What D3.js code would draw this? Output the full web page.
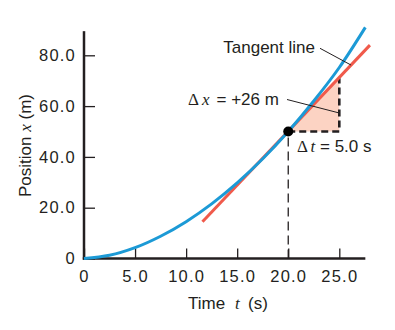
<!DOCTYPE html>
<html>
<head>
<meta charset="utf-8">
<script src="https://cdn.jsdelivr.net/npm/d3@7"></script>
<style>
  html, body { margin: 0; padding: 0; background: #fff; }
  svg { display: block; }
  text { font-family: "Liberation Sans", Arial, sans-serif; fill: #231f20; }
  .serif { font-family: "Liberation Serif", "Times New Roman", serif; }
</style>
</head>
<body>
<svg id="chart" width="395" height="330"></svg>
<script>
// ---- data ----
const timeS = [0, 2.5, 5, 7.5, 10, 12.5, 15, 17.5, 20, 22.5, 25, 27.55];
const posM  = [0, 1.25, 4.25, 8.75, 14.5, 21.5, 29.75, 39.25, 50, 62, 75.2, 91];
const tangentT = [11.6, 28.0];
const tangentX = [14.5, 84.0];
const pointT = 20, pointX = 50;
const triT = [20, 25, 25];
const triX = [50, 50, 71];
const xTickValues = [0, 5, 10, 15, 20, 25];
const xTickLabels = ["0", "5.0", "10.0", "15.0", "20.0", "25.0"];
const yTickValues = [0, 20, 40, 60, 80];
const yTickLabels = ["0", "20.0", "40.0", "60.0", "80.0"];
const xMaxAxis = 27.55, yMaxAxis = 89.5;

// ---- scales ----
const x = d3.scaleLinear().domain([0, 25]).range([84, 339.3]);
const y = d3.scaleLinear().domain([0, 80]).range([258.5, 55.3]);

const svg = d3.select("#chart");
const ink = "#231f20";

// ---- axes ----
const xAxis = d3.axisBottom(x).tickValues(xTickValues)
  .tickFormat((d, i) => xTickLabels[i]).tickSizeInner(-10).tickSizeOuter(0).tickPadding(12);
const gx = svg.append("g").attr("transform", `translate(0,${y(0)})`).call(xAxis);
gx.select(".domain").remove();
gx.selectAll(".tick line").attr("stroke", ink).attr("stroke-width", 1.3);
gx.selectAll(".tick text").attr("fill", ink).style("font-size", "16.5px")
  .style("letter-spacing", "1.2px").attr("font-family", null);

const yAxis = d3.axisLeft(y).tickValues(yTickValues)
  .tickFormat((d, i) => yTickLabels[i]).tickSizeInner(-11).tickSizeOuter(0).tickPadding(8);
const gy = svg.append("g").attr("transform", `translate(${x(0)},0)`).call(yAxis);
gy.select(".domain").remove();
gy.selectAll(".tick line").attr("stroke", ink).attr("stroke-width", 1.3);
gy.selectAll(".tick text").attr("fill", ink).style("font-size", "16.5px")
  .style("letter-spacing", "1.2px").attr("font-family", null);

// axis lines
svg.append("line").attr("x1", x(0) - 1.2).attr("x2", x(xMaxAxis))
  .attr("y1", y(0)).attr("y2", y(0)).attr("stroke", ink).attr("stroke-width", 2.5);
svg.append("line").attr("x1", x(0)).attr("x2", x(0))
  .attr("y1", y(0) + 1.2).attr("y2", y(yMaxAxis)).attr("stroke", ink).attr("stroke-width", 2.5);

// ---- triangle fill ----
const triPts = triT.map((t, i) => [x(t), y(triX[i])]);
svg.append("path").attr("d", d3.line()(triPts) + "Z").attr("fill", "#fcd3c3").attr("stroke", "none");

// dashed drop line to t-axis
svg.append("line").attr("x1", x(pointT)).attr("x2", x(pointT))
  .attr("y1", y(0)).attr("y2", y(pointX))
  .attr("stroke", ink).attr("stroke-width", 1.3).attr("stroke-dasharray", "9,5");

// triangle dashed legs
svg.append("path").attr("d", d3.line()(triPts))
  .attr("fill", "none").attr("stroke", ink).attr("stroke-width", 2.6)
  .attr("stroke-dasharray", "7,4");

// ---- tangent line ----
svg.append("line")
  .attr("x1", x(tangentT[0])).attr("y1", y(tangentX[0]))
  .attr("x2", x(tangentT[1])).attr("y2", y(tangentX[1]))
  .attr("stroke", "#f05a4b").attr("stroke-width", 3);

// ---- position curve ----
const curveData = timeS.map((t, i) => [t, posM[i]]);
svg.append("path").datum(curveData)
  .attr("d", d3.line().x(d => x(d[0])).y(d => y(d[1])).curve(d3.curveCatmullRom))
  .attr("fill", "none").attr("stroke", "#1c9ad6").attr("stroke-width", 3);

// ---- leader lines ----
const tanAt = t => tangentX[0] + (t - tangentT[0]) * (tangentX[1] - tangentX[0]) / (tangentT[1] - tangentT[0]);
svg.append("line").attr("x1", 320).attr("y1", 48.3)
  .attr("x2", x(26.15)).attr("y2", y(tanAt(26.15)))
  .attr("stroke", ink).attr("stroke-width", 1);
svg.append("line").attr("x1", 287).attr("y1", 99.5)
  .attr("x2", x(25)).attr("y2", 113)
  .attr("stroke", ink).attr("stroke-width", 1);

// ---- point ----
svg.append("circle").attr("cx", x(pointT)).attr("cy", y(pointX)).attr("r", 5).attr("fill", "#000");

// ---- annotations ----
svg.append("text").attr("x", 223.3).attr("y", 53.3).style("font-size", "17px").text("Tangent line");

const dx = svg.append("text").attr("y", 105).style("font-size", "17px");
dx.append("tspan").attr("class", "serif").attr("x", 188).text("\u0394");
dx.append("tspan").attr("class", "serif").attr("x", 202).style("font-style", "italic").text("x");
dx.append("tspan").attr("x", 216.5).text("= +26 m");

const dt = svg.append("text").attr("y", 151.7).style("font-size", "17px");
dt.append("tspan").attr("class", "serif").attr("x", 297).text("\u0394");
dt.append("tspan").attr("class", "serif").attr("x", 310.5).style("font-style", "italic").text("t");
dt.append("tspan").attr("x", 320).text("= 5.0 s");

// axis titles
const xt = svg.append("text").attr("y", 309).style("font-size", "17px");
xt.append("tspan").attr("x", 188).text("Time");
xt.append("tspan").attr("class", "serif").attr("x", 235).style("font-style", "italic").text("t");
xt.append("tspan").attr("x", 248).text("(s)");

const yt = svg.append("text").attr("transform", "translate(31,145.5) rotate(-90)")
  .attr("text-anchor", "middle").style("font-size", "17px");
yt.append("tspan").text("Position ");
yt.append("tspan").attr("class", "serif").style("font-style", "italic").text("x");
yt.append("tspan").text(" (m)");
</script>
</body>
</html>
